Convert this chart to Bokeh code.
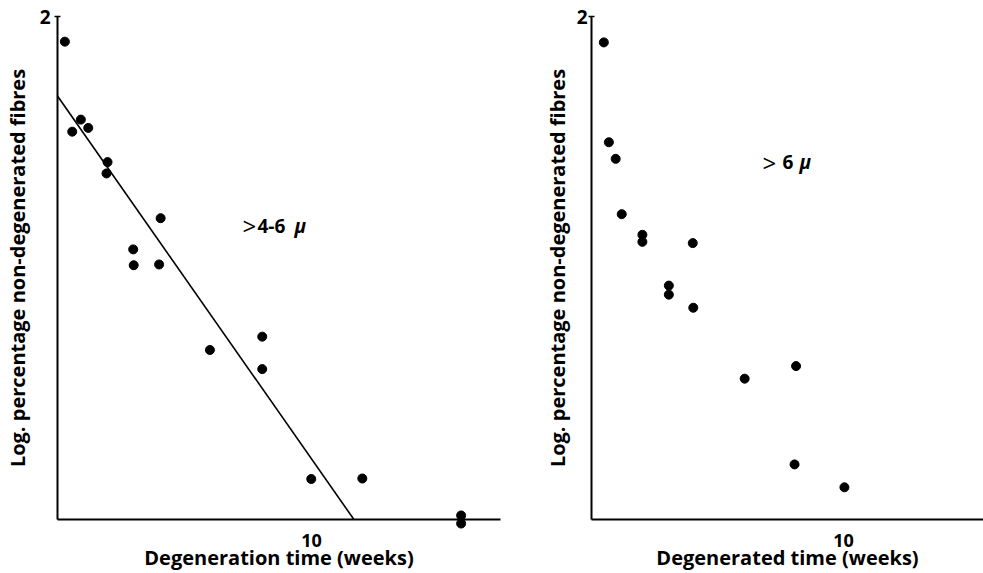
from bokeh.plotting import figure
from bokeh.layouts import row
from bokeh.models import FixedTicker, Range1d, Label
from bokeh.embed import file_html
from bokeh.resources import INLINE

# ---- data (left panel: > 4-6 micron fibres) ----
left_weeks = [0.29, 0.58, 0.92, 1.21, 1.97, 1.93, 2.98, 3.00, 4.00, 4.06,
              6.00, 8.06, 8.06, 9.99, 12.0, 15.89, 15.89, 15.89]
left_logpct = [1.90, 1.542, 1.59, 1.557, 1.421, 1.376, 1.074, 1.011, 1.014, 1.198,
               0.674, 0.727, 0.598, 0.161, 0.163, 0.016, -0.016, -0.043]
fit_weeks = [0.0, 11.67]
fit_logpct = [1.684, 0.0]

# ---- data (right panel: > 6 micron fibres) ----
right_weeks = [0.49, 0.69, 0.96, 1.20, 2.02, 2.02, 3.07, 3.07, 4.02, 4.04,
               6.08, 8.12, 8.06, 10.04]
right_logpct = [1.897, 1.50, 1.434, 1.214, 1.132, 1.104, 0.930, 0.894, 1.099, 0.842,
                0.56, 0.61, 0.219, 0.128]

x_ticks = [10]
y_ticks = [2]
left_xlabel = "Degeneration time (weeks)"
right_xlabel = "Degenerated time (weeks)"
ylabel = "Log. percentage non-degenerated fibres"
left_note = ["\u003e", "4-6", "\u03bc"]
right_note = ["\u003e", "6", "\u03bc"]

FONT = "Open Sans"


def panel(width, height, x_end, border_left, border_right, border_top,
          xlabel, tick_standoff, label_standoff):
    p = figure(width=width, height=height, output_backend="svg", toolbar_location=None,
               x_range=Range1d(0, x_end), y_range=Range1d(0, 2.0),
               min_border_left=border_left, min_border_right=border_right,
               min_border_top=border_top, min_border_bottom=52)
    p.grid.visible = False
    p.outline_line_color = None
    p.background_fill_color = "white"
    p.border_fill_color = "white"

    xa = p.xaxis[0]
    xa.ticker = FixedTicker(ticks=x_ticks)
    xa.minor_tick_line_color = None
    xa.major_tick_out = 0
    xa.major_tick_in = 0
    xa.axis_line_width = 2
    xa.axis_line_color = "black"
    xa.major_label_text_font = FONT
    xa.major_label_text_font_style = "bold"
    xa.major_label_text_font_size = "18px"
    xa.major_label_text_color = "black"
    xa.major_label_standoff = 14
    xa.axis_label = xlabel
    xa.axis_label_text_font = FONT
    xa.axis_label_text_font_style = "bold"
    xa.axis_label_text_font_size = "20px"
    xa.axis_label_text_color = "black"
    xa.axis_label_standoff = -6

    ya = p.yaxis[0]
    ya.ticker = FixedTicker(ticks=y_ticks)
    ya.minor_tick_line_color = None
    ya.major_tick_out = 3
    ya.major_tick_in = 3
    ya.major_tick_line_width = 1.5
    ya.major_tick_line_color = "black"
    ya.axis_line_width = 2
    ya.axis_line_color = "black"
    ya.major_label_text_font = FONT
    ya.major_label_text_font_style = "bold"
    ya.major_label_text_font_size = "19px"
    ya.major_label_text_color = "black"
    ya.major_label_standoff = tick_standoff
    ya.axis_label = ylabel
    ya.axis_label_text_font = FONT
    ya.axis_label_text_font_style = "bold"
    ya.axis_label_text_font_size = "20px"
    ya.axis_label_text_color = "black"
    ya.axis_label_standoff = label_standoff
    return p


def note(p, x, y, parts, offsets):
    styles = ["normal", "bold", "bold italic"]
    sizes = ["24px", "19px", "19px"]
    for txt, off, st, sz in zip(parts, offsets, styles, sizes):
        p.add_layout(Label(x=x, y=y, x_offset=off, text=txt, text_font=FONT,
                           text_font_style=st, text_font_size=sz, text_color="black",
                           text_baseline="middle", text_align="left"))


p1 = panel(539, 573, 17.44, 57, 39, 13, left_xlabel, 4, 6)
p1.line(fit_weeks, fit_logpct, line_color="black", line_width=1.6)
r1 = p1.scatter(left_weeks, left_logpct, size=9, color="black")
r1.level = "overlay"
note(p1, 7.28, 1.168, left_note, [0, 15, 52])

p2 = panel(444, 573, 15.56, 52, 0, 16, right_xlabel, 1, 3)
r2 = p2.scatter(right_weeks, right_logpct, size=9, color="black")
r2.level = "overlay"
note(p2, 6.79, 1.42, right_note, [0, 20, 37])

layout = row(p1, p2)
open("out.html", "w").write(file_html(layout, INLINE))
